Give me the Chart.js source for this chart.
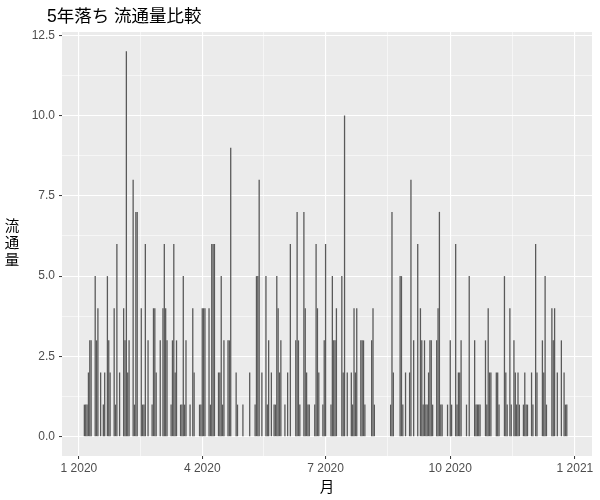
<!DOCTYPE html>
<html>
<head>
<meta charset="utf-8">
<script src="https://cdn.jsdelivr.net/npm/chart.js@4"></script>
<style>
  html, body { margin: 0; padding: 0; background: #ffffff; }
  #wrap { width: 600px; height: 500px; }
</style>
</head>
<body>
<div id="wrap"><canvas id="c" width="600" height="500"></canvas></div>
<script>
// ---- data (day index: 0 = 2020-01-01) ----
const dayOfYear = [
  4,5,6,7,8,9,12,13,14,16,18,19,21,22,23,26,27,28,30,
  33,34,35,36,37,40,41,42,43,46,47,48,49,51,54,55,56,57,60,
  62,63,64,65,68,69,70,71,72,75,76,77,78,79,82,84,85,89,90,91,
  92,93,96,97,98,99,100,103,104,105,106,107,110,111,112,116,117,121,
  126,130,131,132,133,135,138,139,140,142,144,145,146,147,148,149,152,
  154,156,160,161,162,163,166,167,168,169,170,174,175,176,177,180,181,182,
  186,187,188,189,190,194,195,196,198,201,202,203,204,205,208,209,210,211,
  216,217,218,230,231,232,237,238,239,241,
  244,245,247,250,252,253,254,255,256,257,258,259,260,261,264,265,266,267,268,272,
  274,275,278,279,280,281,282,286,288,292,293,294,295,296,300,301,302,303,
  304,308,309,310,314,315,316,318,319,321,322,323,324,325,328,329,330,331,
  334,335,337,338,342,343,344,345,349,350,351,353,356,358,359,360
];
const counts = [
  1,1,1,2,3,3,5,3,4,2,1,2,5,3,2,4,1,6,2,
  4,3,12,2,3,8,1,7,7,4,1,1,6,3,1,4,4,2,3,
  4,6,4,3,1,3,6,2,3,1,1,5,1,3,1,4,2,1,1,4,
  4,4,4,1,6,6,6,2,2,5,1,3,3,3,9,2,1,1,
  2,1,5,5,8,2,5,1,3,2,1,1,5,4,2,3,1,
  2,6,3,7,3,1,7,4,2,1,1,1,6,4,2,1,3,6,
  1,5,3,3,4,5,2,10,2,2,1,4,2,4,3,3,3,1,
  3,4,1,1,7,2,5,5,1,2,
  2,8,3,6,4,3,1,3,1,1,2,3,3,1,3,4,7,1,1,1,
  3,1,6,1,2,2,3,1,5,3,1,1,1,1,3,1,4,2,
  2,2,2,1,5,2,1,4,1,3,2,1,2,1,1,2,1,1,
  2,1,6,2,3,2,5,1,4,3,4,2,3,2,1,1
];
const xTickDays   = [0, 91, 182, 274, 366];
const xTickLabels = ['1 2020', '4 2020', '7 2020', '10 2020', '1 2021'];
const yTicks      = [0, 2.5, 5, 7.5, 10, 12.5];
const titleText   = '5年落ち 流通量比較';
const xTitle      = '月';
const yTitle      = '流通量';

// ---- build ----
const points = dayOfYear.map((d, i) => ({ x: d, y: counts[i] }));
const xMinor = xTickDays.slice(1).map((d, i) => (d + xTickDays[i]) / 2);
const yMinor = yTicks.slice(1).map((v, i) => (v + yTicks[i]) / 2);
const isMajorX = v => xTickDays.includes(v);
const isMajorY = v => yTicks.some(t => Math.abs(t - v) < 1e-9);

const FAMILY = "'Liberation Sans', 'Noto Sans CJK JP', sans-serif";
Chart.defaults.font.family = FAMILY;

const panelBg = {
  id: 'panelBg',
  beforeDraw(chart) {
    const { ctx, chartArea: a } = chart;
    ctx.save();
    ctx.fillStyle = '#EBEBEB';
    ctx.fillRect(a.left, a.top, a.right - a.left, a.bottom - a.top);
    ctx.restore();
  }
};

const texts = {
  id: 'texts',
  afterDraw(chart) {
    const { ctx, chartArea: a } = chart;
    ctx.save();
    ctx.fillStyle = '#000000';
    ctx.textBaseline = 'middle';
    ctx.textAlign = 'left';
    ctx.font = "17.5px " + FAMILY;
    ctx.fillText(titleText, 47, 17);
    ctx.font = "14.5px " + FAMILY;
    ctx.textAlign = 'center';
    ctx.fillText(xTitle, (a.left + a.right) / 2, 488);
    const chars = Array.from(yTitle);
    const cy = (a.top + a.bottom) / 2;
    const step = 17;
    chars.forEach((ch, i) => {
      ctx.fillText(ch, 12, cy + (i - (chars.length - 1) / 2) * step);
    });
    ctx.restore();
  }
};

new Chart(document.getElementById('c'), {
  type: 'bar',
  data: {
    datasets: [{
      data: points,
      backgroundColor: '#595959',
      borderWidth: 0,
      barPercentage: 0.95,
      categoryPercentage: 1.0
    }]
  },
  options: {
    responsive: false,
    animation: false,
    devicePixelRatio: 1,
    layout: { padding: { left: 0, top: 32, right: 8, bottom: 0 } },
    plugins: { legend: { display: false }, tooltip: { enabled: false }, title: { display: false } },
    scales: {
      x: {
        type: 'linear',
        min: -12.5,
        max: 378.6,
        offset: false,
        border: { display: false },
        grid: {
          offset: false,
          color: '#FFFFFF',
          lineWidth: c => (c.tick && isMajorX(c.tick.value)) ? 1.1 : 0.55,
          tickColor: c => (c.tick && isMajorX(c.tick.value)) ? '#333333' : 'rgba(0,0,0,0)',
          tickLength: 3,
          tickWidth: 1
        },
        afterBuildTicks: s => {
          s.ticks = xTickDays.concat(xMinor).sort((a, b) => a - b).map(v => ({ value: v }));
        },
        afterFit: s => { s.height = 44; },
        ticks: {
          autoSkip: false,
          maxRotation: 0,
          padding: 2,
          color: '#4D4D4D',
          font: { size: 12 },
          callback: v => { const i = xTickDays.indexOf(v); return i >= 0 ? xTickLabels[i] : ''; }
        }
      },
      y: {
        min: -0.6,
        max: 12.6,
        border: { display: false },
        grid: {
          color: '#FFFFFF',
          lineWidth: c => (c.tick && isMajorY(c.tick.value)) ? 1.1 : 0.55,
          tickColor: c => (c.tick && isMajorY(c.tick.value)) ? '#333333' : 'rgba(0,0,0,0)',
          tickLength: 3,
          tickWidth: 1
        },
        afterBuildTicks: s => {
          s.ticks = yTicks.concat(yMinor).sort((a, b) => a - b).map(v => ({ value: v }));
        },
        afterFit: s => { s.width = 62; },
        ticks: {
          autoSkip: false,
          padding: 4,
          color: '#4D4D4D',
          font: { size: 12 },
          callback: v => isMajorY(v) ? v.toFixed(1) : ''
        }
      }
    }
  },
  plugins: [panelBg, texts]
});
</script>
</body>
</html>
